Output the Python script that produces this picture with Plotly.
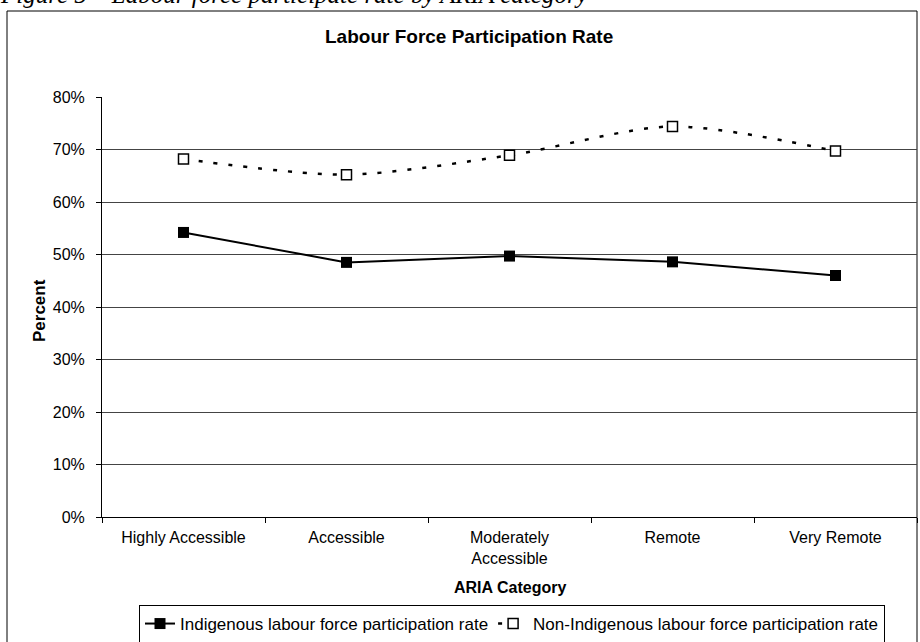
import plotly.graph_objects as go

categories = ["Highly Accessible", "Accessible", "Moderately<br>Accessible", "Remote", "Very Remote"]
indigenous = [0.542, 0.485, 0.497, 0.486, 0.460]
non_indigenous = [0.682, 0.652, 0.689, 0.744, 0.697]
y_ticks = [0, 0.1, 0.2, 0.3, 0.4, 0.5, 0.6, 0.7, 0.8]
y_tick_labels = ["0%", "10%", "20%", "30%", "40%", "50%", "60%", "70%", "80%"]

W, H = 920, 642
L, R, T, B = 102, 917, 97, 517
pw, ph = R - L, B - T

def px(x):
    return (x - L) / pw

def py(y):
    return (B - y) / ph

FONT = "Liberation Sans, Arial"

fig = go.Figure()
fig.add_trace(go.Scatter(
    x=categories, y=indigenous, mode="lines+markers",
    name="Indigenous labour force participation rate",
    line=dict(color="black", width=2),
    marker=dict(symbol="square", size=11, color="black"),
))
fig.add_trace(go.Scatter(
    x=categories, y=non_indigenous, mode="lines+markers",
    name="Non-Indigenous labour force participation rate",
    line=dict(color="black", width=2.5, dash="4px,11px", shape="spline", smoothing=0.8),
    marker=dict(symbol="square", size=10, color="white", line=dict(color="black", width=1.5)),
))

fig.update_layout(
    width=W, height=H,
    margin=dict(l=L, r=W - R, t=T, b=H - B, autoexpand=False),
    paper_bgcolor="white", plot_bgcolor="white",
    font=dict(family=FONT, size=16, color="black"),
    showlegend=True,
    legend=dict(
        orientation="h", x=px(139), xanchor="left", y=py(605), yanchor="top",
        bordercolor="black", borderwidth=1, bgcolor="white",
        font=dict(size=17), itemwidth=30, tracegroupgap=0,
    ),
    xaxis=dict(
        type="category", showgrid=False, showline=True, linecolor="black", linewidth=1,
        ticks="outside", ticklen=5, tickcolor="black", tickson="boundaries",
        tickfont=dict(size=16), range=[-0.5, 4.5], automargin=False,
        ticklabelstandoff=6,
    ),
    yaxis=dict(
        range=[0, 0.8], tickvals=y_ticks, ticktext=y_tick_labels,
        showgrid=True, gridcolor="#444444", gridwidth=1,
        showline=True, linecolor="black", linewidth=1,
        ticks="outside", ticklen=5, tickcolor="black", zeroline=False,
        tickfont=dict(size=16), automargin=False, ticklabelstandoff=8,
    ),
    shapes=[
        dict(type="rect", xref="paper", yref="paper",
             x0=px(7), x1=px(917), y0=py(660), y1=py(11),
             line=dict(color="black", width=1), fillcolor="rgba(0,0,0,0)", layer="below"),
    ],
    annotations=[
        dict(text="<b>Labour Force Participation Rate</b>", xref="paper", yref="paper",
             x=px(469), y=py(36), xanchor="center", yanchor="middle", showarrow=False,
             font=dict(size=19, family=FONT)),
        dict(text="<b>Percent</b>", xref="paper", yref="paper",
             x=px(39), y=py(311), xanchor="center", yanchor="middle", showarrow=False,
             textangle=-90, font=dict(size=17, family=FONT)),
        dict(text="<b>ARIA Category</b>", xref="paper", yref="paper",
             x=px(510), y=py(587), xanchor="center", yanchor="middle", showarrow=False,
             font=dict(size=16, family=FONT)),
        dict(text="<i>Figure 5 \u2013 Labour force participate rate by ARIA category</i>",
             xref="paper", yref="paper", x=px(-2), y=py(10), xanchor="left", yanchor="bottom",
             showarrow=False, font=dict(size=25, family="Liberation Serif, Times New Roman")),
    ],
)

fig.write_html(
    "out.html",
    config={"displayModeBar": False},
    post_script="document.body.style.margin='0';document.body.style.overflow='hidden';",
)
